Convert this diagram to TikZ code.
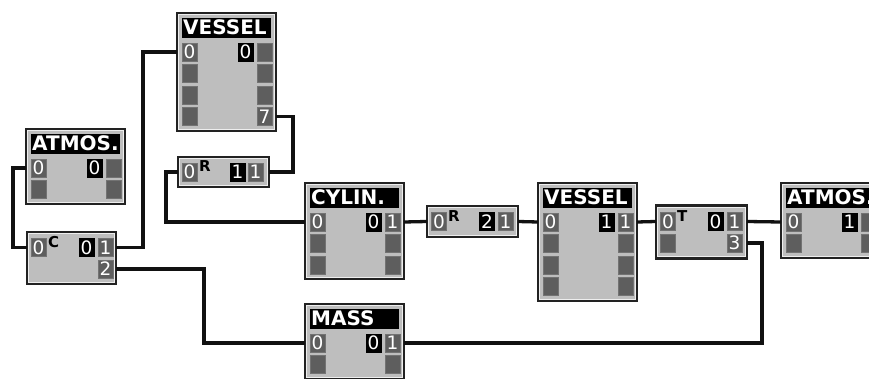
\documentclass[tikz,border=0pt]{standalone}
\usepackage{fontspec}
\setsansfont{DejaVu Sans}
\usetikzlibrary{calc}
\definecolor{boxgray}{HTML}{BEBEBE}
\definecolor{boxedge}{HTML}{222222}
\definecolor{boxlight}{HTML}{EEEEEE}
\definecolor{portgray}{HTML}{5E5E5E}
\definecolor{wireblack}{HTML}{111111}

\begin{document}
\begin{tikzpicture}[
    x=1pt, y=-1pt,
    font=\sffamily,
    comp box/.style 2 args={draw=boxedge, line width=2.4pt, fill=boxgray,
        anchor=north west, inner sep=0pt, outer sep=0pt,
        minimum width=#1pt, minimum height=#2pt,
        path picture={\draw[boxlight, line width=1pt]
            ([shift={(1.8pt,-1.8pt)}]path picture bounding box.north west) rectangle
            ([shift={(-1.8pt,1.8pt)}]path picture bounding box.south east);}},
    title bar/.style={fill=black, text=white, anchor=north west,
        inner sep=0pt, inner xsep=1pt, text width=87pt, align=left,
        minimum height=20pt, font={\sffamily\bfseries\fontsize{20}{20}\selectfont}},
    port/.style={fill=portgray, draw=black!55, line width=0.5pt,
        minimum width=15pt, minimum height=18pt, inner sep=0pt, text=white,
        font={\sffamily\fontsize{18.5}{18.5}\selectfont}},
    tag/.style={port, fill=black, draw=black},
    kind/.style={anchor=north west, inner sep=0pt,
        font={\sffamily\bfseries\fontsize{15}{15}\selectfont}},
    wire/.style={draw=wireblack, line width=3.3pt},
]

% ══════════════════════════════════════════════════════════════════════
%  FRAME — picture cut at the right edge, as the screen shot is
% ══════════════════════════════════════════════════════════════════════
\useasboundingbox (0,0) rectangle (869,379);
\clip (0,0) rectangle (869,379);
\fill[white] (0,0) rectangle (869,379);

% ── VESSEL (top) ──────────────────────────────────────────────────────
\node[comp box={99}{118}] (vesA) at (177,13) {};
\node[title bar] (vesA-t) at ([shift={(5,4.5)}]vesA.north west) {VESSEL};
\foreach \i/\lt/\rt in {1/0/{},2/{}/{},3/{}/{},4/{}/7} {
  \node[port] (vesA-l\i) at ([shift={(12.5,{39+21.5*(\i-1)})}]vesA.north west) {\lt};
  \node[port] (vesA-r\i) at ([shift={(87.5,{39+21.5*(\i-1)})}]vesA.north west) {\rt};
}
\node[tag] (vesA-k) at ([shift={(68.5,39)}]vesA.north west) {0};

% ── ATMOS. (left) ─────────────────────────────────────────────────────
\node[comp box={99}{75}] (atmA) at (26,129) {};
\node[title bar] (atmA-t) at ([shift={(5,4.5)}]atmA.north west) {ATMOS.};
\foreach \i/\lt/\rt in {1/0/{},2/{}/{}} {
  \node[port] (atmA-l\i) at ([shift={(12.5,{39+21.5*(\i-1)})}]atmA.north west) {\lt};
  \node[port] (atmA-r\i) at ([shift={(87.5,{39+21.5*(\i-1)})}]atmA.north west) {\rt};
}
\node[tag] (atmA-k) at ([shift={(68.5,39)}]atmA.north west) {0};

% ── OR (top) ──────────────────────────────────────────────────────────
\node[comp box={91}{30}] (orA) at (178,157) {};
\node[port] (orA-l1) at ([shift={(11.5,15)}]orA.north west) {0};
\node[kind] (orA-n) at ([shift={(21,3.5)}]orA.north west) {R};
\node[tag] (orA-k) at ([shift={(59.5,15)}]orA.north west) {1};
\node[port] (orA-r1) at ([shift={(77.5,15)}]orA.north west) {1};

% ── C ─────────────────────────────────────────────────────────────────
\node[comp box={89}{52}] (cC) at (27,232) {};
\node[port] (cC-l1) at ([shift={(11.5,15.5)}]cC.north west) {0};
\node[kind] (cC-n) at ([shift={(21,4.5)}]cC.north west) {C};
\node[tag] (cC-k) at ([shift={(59.5,15.5)}]cC.north west) {0};
\node[port] (cC-r1) at ([shift={(78.5,15.5)}]cC.north west) {1};
\node[port] (cC-r2) at ([shift={(78.5,37)}]cC.north west) {2};

% ── CYLIN. ────────────────────────────────────────────────────────────
\node[comp box={99}{96}] (cyl) at (305,183) {};
\node[title bar] (cyl-t) at ([shift={(5,4.5)}]cyl.north west) {CYLIN.};
\foreach \i/\lt/\rt in {1/0/1,2/{}/{},3/{}/{}} {
  \node[port] (cyl-l\i) at ([shift={(12.5,{39+21.5*(\i-1)})}]cyl.north west) {\lt};
  \node[port] (cyl-r\i) at ([shift={(87.5,{39+21.5*(\i-1)})}]cyl.north west) {\rt};
}
\node[tag] (cyl-k) at ([shift={(68.5,39)}]cyl.north west) {0};

% ── OR (middle) ───────────────────────────────────────────────────────
\node[comp box={91}{31}] (orB) at (427,206) {};
\node[port] (orB-l1) at ([shift={(12,15.5)}]orB.north west) {0};
\node[kind] (orB-n) at ([shift={(21,4.5)}]orB.north west) {R};
\node[tag] (orB-k) at ([shift={(60,15.5)}]orB.north west) {2};
\node[port] (orB-r1) at ([shift={(78.5,15.5)}]orB.north west) {1};

% ── VESSEL (middle) ───────────────────────────────────────────────────
\node[comp box={99}{118}] (vesB) at (538,183) {};
\node[title bar] (vesB-t) at ([shift={(5,4.5)}]vesB.north west) {VESSEL};
\foreach \i/\lt/\rt in {1/0/1,2/{}/{},3/{}/{},4/{}/{}} {
  \node[port] (vesB-l\i) at ([shift={(12.5,{39+21.5*(\i-1)})}]vesB.north west) {\lt};
  \node[port] (vesB-r\i) at ([shift={(87.5,{39+21.5*(\i-1)})}]vesB.north west) {\rt};
}
\node[tag] (vesB-k) at ([shift={(68.5,39)}]vesB.north west) {1};

% ── T ─────────────────────────────────────────────────────────────────
\node[comp box={91}{53}] (tT) at (656,205.5) {};
\node[port] (tT-l1) at ([shift={(12,16)}]tT.north west) {0};
\node[port] (tT-l2) at ([shift={(12,37.5)}]tT.north west) {};
\node[kind] (tT-n) at ([shift={(21,5)}]tT.north west) {T};
\node[tag] (tT-k) at ([shift={(59.5,16)}]tT.north west) {0};
\node[port] (tT-r1) at ([shift={(78.5,16)}]tT.north west) {1};
\node[port] (tT-r2) at ([shift={(78.5,37.5)}]tT.north west) {3};

% ── ATMOS. (right, cut) ───────────────────────────────────────────────
\node[comp box={99}{75}] (atmB) at (781,183) {};
\node[title bar] (atmB-t) at ([shift={(5,4.5)}]atmB.north west) {ATMOS.};
\foreach \i/\lt/\rt in {1/0/{},2/{}/{}} {
  \node[port] (atmB-l\i) at ([shift={(12.5,{39+21.5*(\i-1)})}]atmB.north west) {\lt};
  \node[port] (atmB-r\i) at ([shift={(87.5,{39+21.5*(\i-1)})}]atmB.north west) {\rt};
}
\node[tag] (atmB-k) at ([shift={(68.5,39)}]atmB.north west) {1};

% ── MASS ──────────────────────────────────────────────────────────────
\node[comp box={99}{75}] (mass) at (305,304) {};
\node[title bar] (mass-t) at ([shift={(5,4.5)}]mass.north west) {MASS};
\foreach \i/\lt/\rt in {1/0/1,2/{}/{}} {
  \node[port] (mass-l\i) at ([shift={(12.5,{39+21.5*(\i-1)})}]mass.north west) {\lt};
  \node[port] (mass-r\i) at ([shift={(87.5,{39+21.5*(\i-1)})}]mass.north west) {\rt};
}
\node[tag] (mass-k) at ([shift={(68.5,39)}]mass.north west) {0};

% ══════════════════════════════════════════════════════════════════════
%  WIRES — port to port, square corners
% ══════════════════════════════════════════════════════════════════════
\draw[wire] (atmA.west |- atmA-l1) -- ++(-13,0) |- (cC.west |- cC-l1);
\draw[wire] (cC.east |- cC-r1) -- ++(27,0) |- (vesA.west |- vesA-l1);
\draw[wire] (vesA.east |- vesA-r4) -- ++(17,0) |- (orA.east |- orA-r1);
\draw[wire] (orA.west |- orA-l1) -- ++(-12,0) |- (cyl.west |- cyl-l1);
\draw[wire] (cyl.east |- cyl-r1) -- (orB.west |- orB-l1);
\draw[wire] (orB.east |- orB-r1) -- (vesB.west |- vesB-l1);
\draw[wire] (vesB.east |- vesB-r1) -- (tT.west |- tT-l1);
\draw[wire] (tT.east |- tT-r1) -- (atmB.west |- atmB-l1);
\draw[wire] (cC.east |- cC-r2) -- ++(88,0) |- (mass.west |- mass-l1);
\draw[wire] (mass.east |- mass-r1) -- ++(358,0) |- (tT.east |- tT-r2);

\end{tikzpicture}
\end{document}
